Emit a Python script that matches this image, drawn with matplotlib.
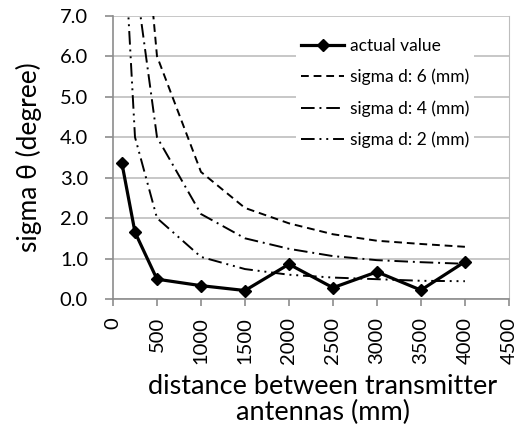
import numpy as np
import matplotlib
matplotlib.use("Agg")
import matplotlib.pyplot as plt

plt.rcParams['font.family'] = ['Lato', 'DejaVu Sans']

# values
dist = [100, 250, 500, 1000, 1500, 2000, 2500, 3000, 3500, 4000]
actual = [3.37, 1.65, 0.49, 0.33, 0.21, 0.86, 0.28, 0.67, 0.22, 0.92]
sigma6 = [30.0, 12.0, 6.0, 3.14, 2.25, 1.87, 1.60, 1.44, 1.36, 1.29]
sigma4 = [20.0, 8.0, 4.0, 2.10, 1.50, 1.24, 1.06, 0.96, 0.91, 0.87]
sigma2 = [10.0, 4.0, 2.0, 1.04, 0.74, 0.60, 0.53, 0.49, 0.45, 0.44]

labels = ['actual value', 'sigma d: 6 (mm)', 'sigma d: 4 (mm)', 'sigma d: 2 (mm)']
xticks = np.arange(0, 4501, 500)
yticks = np.arange(0, 7.01, 1.0)

fig = plt.figure(figsize=(5.29, 4.29), dpi=100)
ax = fig.add_axes([0.2136, 0.303, 0.7484, 0.6604])

ax.plot(dist, actual, color='black', lw=2.3, marker='D', ms=6, label=labels[0], zorder=5)
ax.plot(dist, sigma6, color='black', lw=1.4, ls=(0, (4, 2.5)), label=labels[1], zorder=4)
ax.plot(dist, sigma4, color='black', lw=1.4, ls=(0, (7, 2.5, 1, 2.5)), label=labels[2], zorder=4)
ax.plot(dist, sigma2, color='black', lw=1.4, ls=(0, (7, 2.5, 1, 2.5, 1, 2.5)), label=labels[3], zorder=4)

ax.set_xlim(0, 4500)
ax.set_ylim(0, 7.0)
ax.set_xticks(xticks)
ax.set_yticks(yticks)
ax.set_xticklabels([str(int(v)) for v in xticks], rotation=90, fontsize=14.5)
ax.set_yticklabels(['%.1f' % v for v in yticks], fontsize=14.5)
ax.yaxis.grid(True, color='#bdbdbd', lw=1.2)
ax.set_axisbelow(True)

for s in ['left', 'bottom']:
    ax.spines[s].set_color('#8c8c8c')
    ax.spines[s].set_linewidth(1.2)
ax.spines['right'].set_color('#bdbdbd')
ax.spines['top'].set_visible(False)
ax.tick_params(axis='both', colors='#8c8c8c', labelcolor='black', width=1.2)
ax.tick_params(axis='x', length=5, pad=8)
ax.tick_params(axis='y', length=6, pad=12)

ax.set_ylabel('sigma θ (degree)', fontsize=19)
ax.yaxis.set_label_coords(-0.18, 0.5, transform=ax.transAxes)
ax.set_xlabel('distance between transmitter\nantennas (mm)', fontsize=19.5, linespacing=1.05)
ax.xaxis.set_label_coords(0.53, -0.265, transform=ax.transAxes)
ax.xaxis.label.set_verticalalignment('top')

leg = ax.legend(loc='upper left', bbox_to_anchor=(0.44, 0.97), fontsize=12.5,
                frameon=True, framealpha=1, facecolor='white', edgecolor='none',
                handlelength=2.5, handletextpad=0.3, borderpad=0.3, labelspacing=0.85,
                fancybox=False)
leg.set_zorder(3)

fig.savefig('out.png', dpi=100)
